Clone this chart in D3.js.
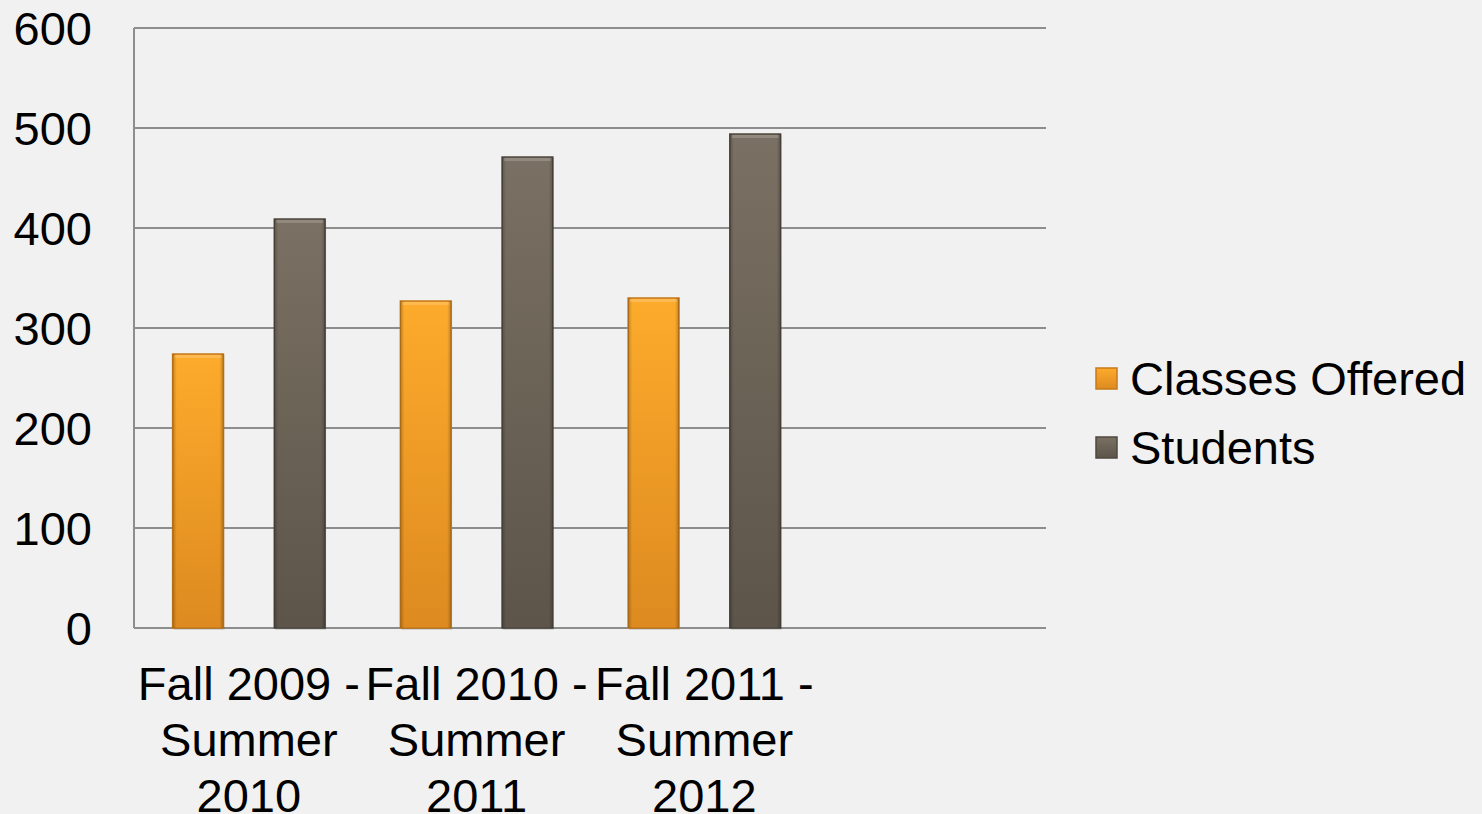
<!DOCTYPE html>
<html>
<head>
<meta charset="utf-8">
<script src="https://cdn.jsdelivr.net/npm/d3@7"></script>
<style>
  html, body { margin: 0; padding: 0; background: #f1f1f1; }
  svg { display: block; font-family: "Liberation Sans", Arial, sans-serif; }
</style>
</head>
<body>
<svg id="chart" width="1482" height="814"></svg>
<script>
// chart values
const categories = ["Fall 2009 - Summer 2010", "Fall 2010 - Summer 2011", "Fall 2011 - Summer 2012", ""];
const categoryLines = [["Fall 2009 -", "Summer", "2010"], ["Fall 2010 -", "Summer", "2011"], ["Fall 2011 -", "Summer", "2012"], []];
const seriesNames = ["Classes Offered", "Students"];
const classesOffered = [274, 327, 330, null];
const students = [409, 471, 494, null];
const yTicks = [0, 100, 200, 300, 400, 500, 600];

const width = 1482, height = 814;
const margin = { top: 28, left: 135, right: 436, bottom: 186 };
const innerW = width - margin.left - margin.right;
const innerH = height - margin.top - margin.bottom;

const svg = d3.select("#chart");
const defs = svg.append("defs");

// bar gradients (vertical) and side shading (horizontal)
const grads = [
  { id: "gradOrange", top: "#fdab2c", bottom: "#dd8a20", stroke: "#c77a18" },
  { id: "gradGray", top: "#7a7063", bottom: "#5d554a", stroke: "#4f483f" }
];
grads.forEach(g => {
  const lg = defs.append("linearGradient").attr("id", g.id)
    .attr("x1", 0).attr("y1", 0).attr("x2", 0).attr("y2", 1);
  lg.append("stop").attr("offset", "0%").attr("stop-color", g.top);
  lg.append("stop").attr("offset", "100%").attr("stop-color", g.bottom);
});
const side = defs.append("linearGradient").attr("id", "sideShade")
  .attr("x1", 0).attr("y1", 0).attr("x2", 1).attr("y2", 0);
[[0, 0.22], [0.08, 0], [0.92, 0], [1, 0.22]].forEach(([o, a]) => {
  side.append("stop").attr("offset", o).attr("stop-color", "#000").attr("stop-opacity", a);
});

const chart = svg.append("g").attr("transform", `translate(${margin.left},${margin.top})`);

const x0 = d3.scaleBand().domain(categories).range([0, innerW]).padding(0);
const x1 = d3.scaleBand().domain(seriesNames).range([0, x0.bandwidth()])
  .paddingInner(0.5).paddingOuter(0.37);
const y = d3.scaleLinear().domain([0, 600]).range([innerH, 0]);

// gridlines
chart.append("g").selectAll("line").data(yTicks).join("line")
  .attr("x1", -1).attr("x2", innerW)
  .attr("y1", d => y(d)).attr("y2", d => y(d))
  .attr("stroke", "#8d8d8d").attr("stroke-width", 2);

// left axis line
chart.append("line").attr("x1", -1).attr("x2", -1).attr("y1", 0).attr("y2", innerH)
  .attr("stroke", "#8d8d8d").attr("stroke-width", 2);

// y tick labels
chart.append("g").selectAll("text").data(yTicks).join("text")
  .attr("x", -43).attr("y", d => y(d)).attr("dy", "0.36em")
  .attr("text-anchor", "end").attr("font-size", 47).attr("fill", "#000")
  .text(d => d);

// bars
const series = [
  { name: seriesNames[0], values: classesOffered, grad: grads[0] },
  { name: seriesNames[1], values: students, grad: grads[1] }
];
series.forEach(s => {
  const bars = s.values.map((v, i) => ({ cat: categories[i], v })).filter(d => d.v != null);
  const g = chart.append("g");
  const bx = d => x0(d.cat) + x1(s.name);
  // soft shadow
  g.selectAll("rect.shadow").data(bars).join("rect").attr("class", "shadow")
    .attr("x", d => bx(d) + 1)
    .attr("y", d => y(d.v) + 1)
    .attr("width", x1.bandwidth())
    .attr("height", d => innerH - y(d.v) + 1)
    .attr("fill", "#000").attr("opacity", 0.12);
  g.selectAll("rect.bar").data(bars).join("rect").attr("class", "bar")
    .attr("x", bx)
    .attr("y", d => y(d.v))
    .attr("width", x1.bandwidth())
    .attr("height", d => innerH - y(d.v))
    .attr("fill", `url(#${s.grad.id})`)
    .attr("stroke", s.grad.stroke).attr("stroke-width", 1.5);
  g.selectAll("rect.side").data(bars).join("rect").attr("class", "side")
    .attr("x", bx)
    .attr("y", d => y(d.v))
    .attr("width", x1.bandwidth())
    .attr("height", d => innerH - y(d.v))
    .attr("fill", "url(#sideShade)");
  // top bevel highlight
  g.selectAll("rect.hl").data(bars).join("rect").attr("class", "hl")
    .attr("x", d => bx(d) + 2)
    .attr("y", d => y(d.v) + 1)
    .attr("width", x1.bandwidth() - 4)
    .attr("height", 3)
    .attr("fill", "#fff").attr("opacity", 0.18);
});

// category labels
const catG = chart.append("g").selectAll("text").data(categories).join("text")
  .attr("text-anchor", "middle").attr("font-size", 47).attr("fill", "#000")
  .attr("transform", d => `translate(${x0(d) + x0.bandwidth() / 2},${innerH + 72})`);
catG.each(function (d, i) {
  d3.select(this).selectAll("tspan").data(categoryLines[i]).join("tspan")
    .attr("x", 0).attr("y", (t, j) => j * 56).text(t => t);
});

// legend
const legend = svg.append("g").attr("transform", "translate(1096,0)");
const legendY = [379, 448];
series.forEach((s, i) => {
  const lg = legend.append("g").attr("transform", `translate(0,${legendY[i]})`);
  lg.append("rect").attr("x", 0).attr("y", -11).attr("width", 21).attr("height", 21)
    .attr("fill", `url(#${s.grad.id})`).attr("stroke", s.grad.stroke).attr("stroke-width", 1.5);
  lg.append("text").attr("x", 34).attr("y", 0).attr("dy", "0.35em")
    .attr("font-size", 47).attr("fill", "#000").text(s.name);
});
</script>
</body>
</html>
